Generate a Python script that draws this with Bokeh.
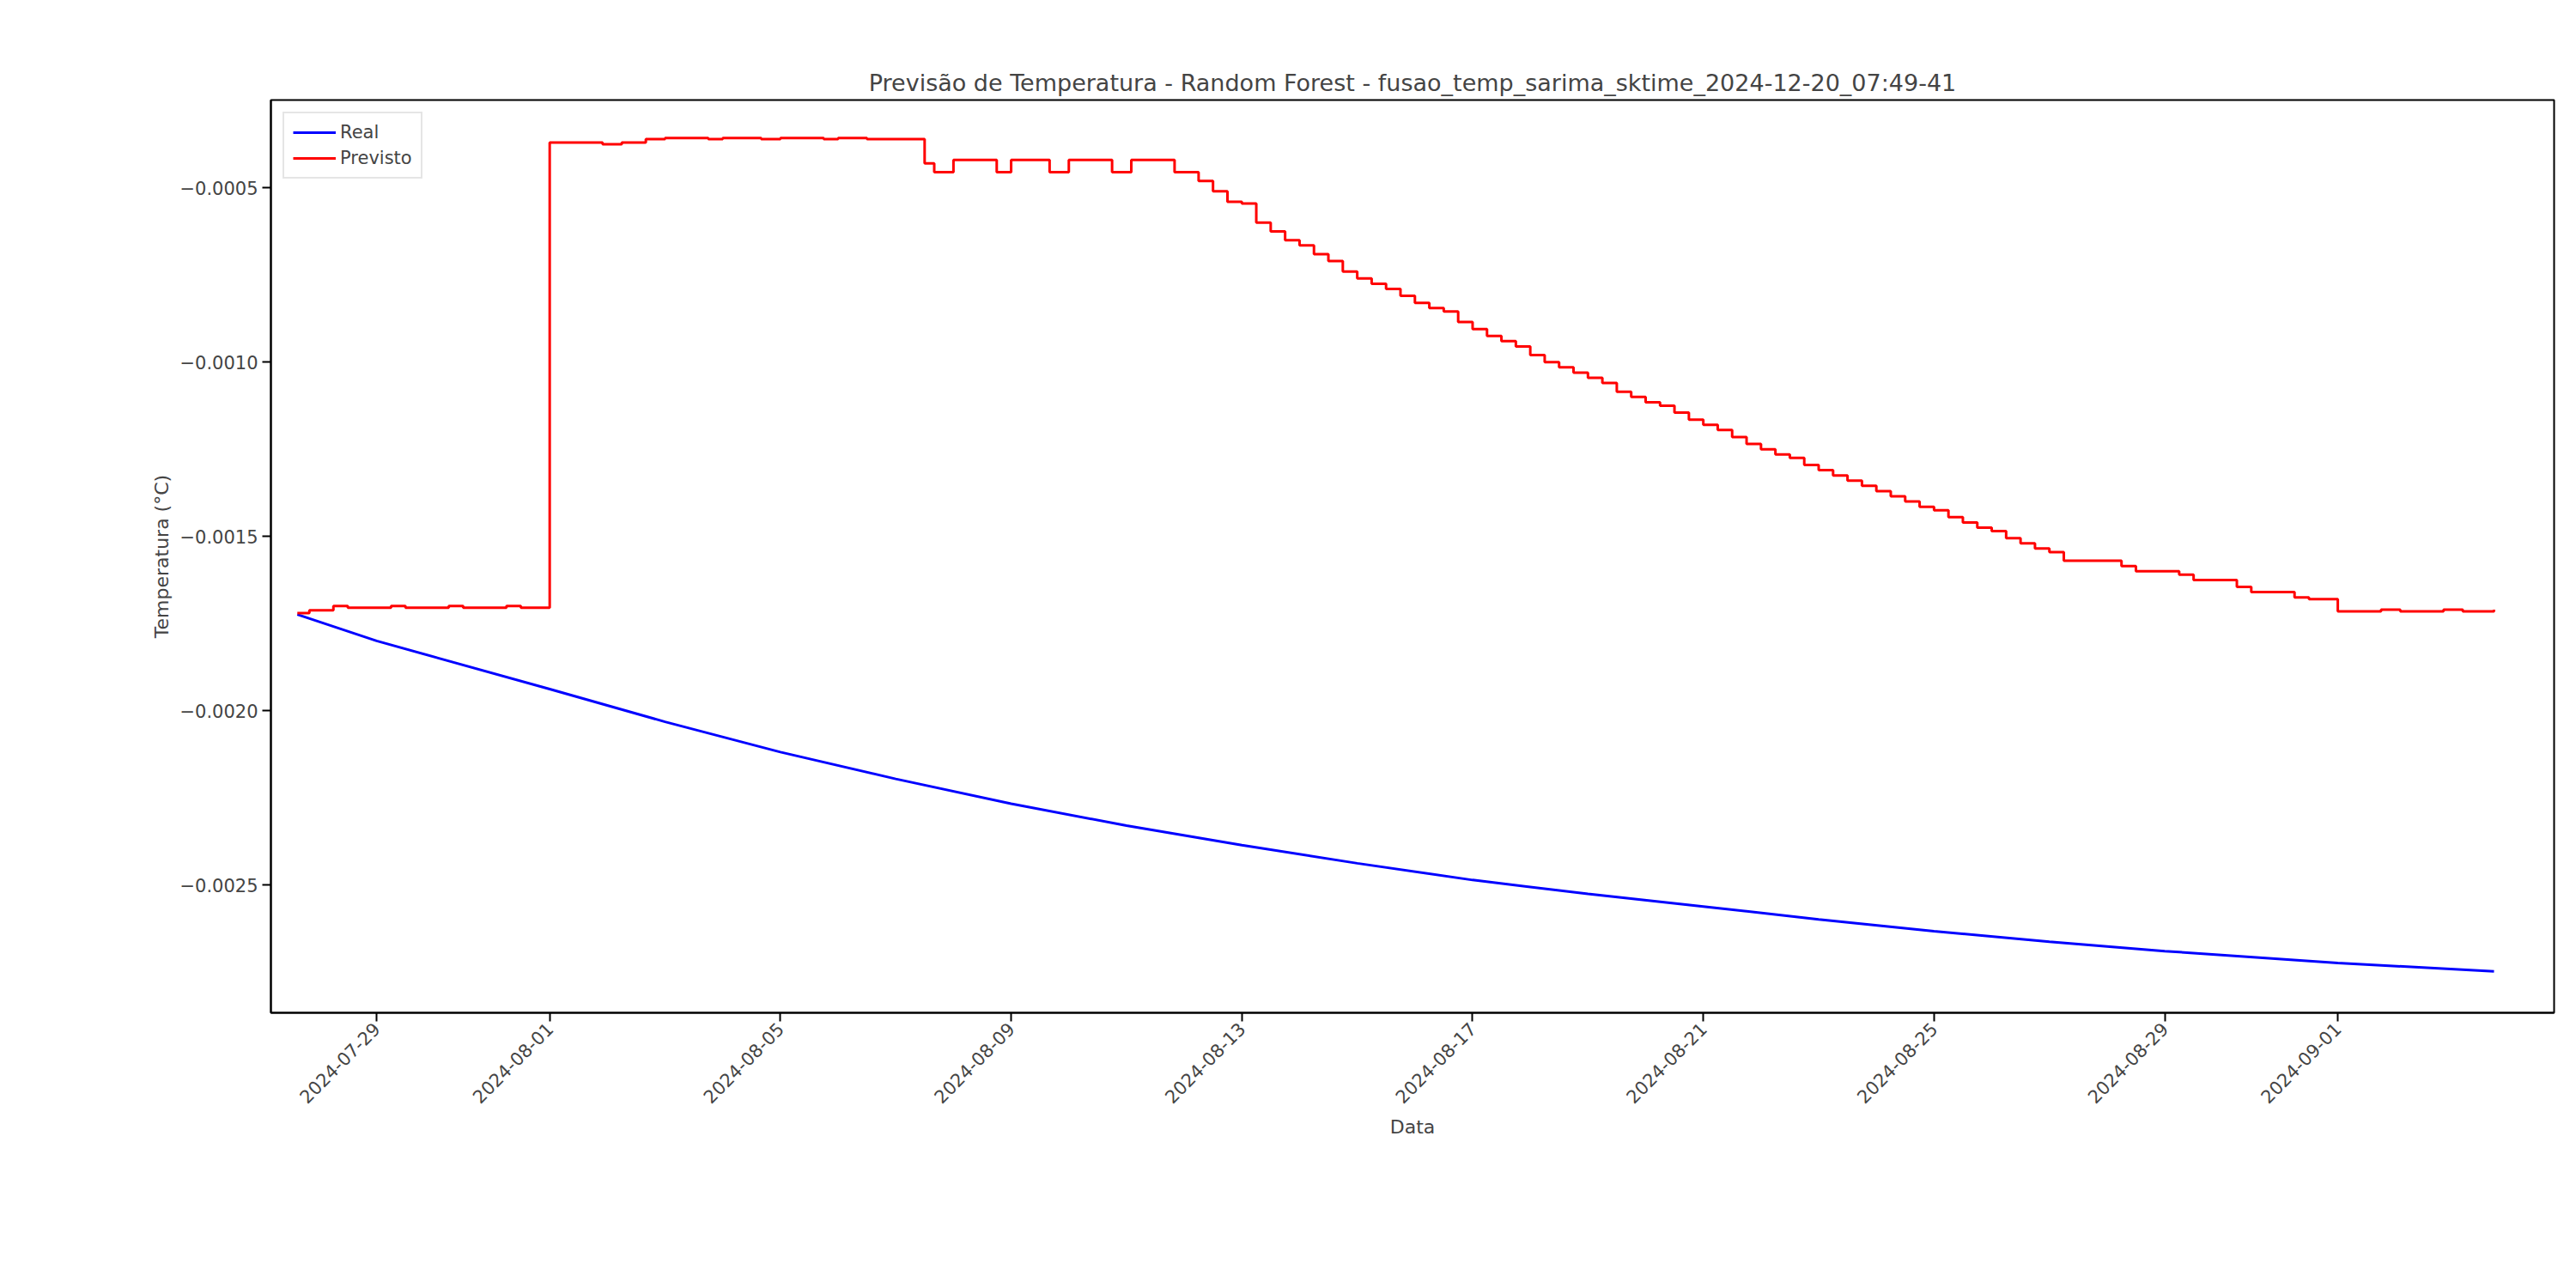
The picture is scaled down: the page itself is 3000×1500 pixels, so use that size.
import numpy as np, pandas as pd
from bokeh.plotting import figure
from bokeh.models import Range1d, FixedTicker, CustomJSTickFormatter, Legend, LegendItem, DatetimeTickFormatter
from bokeh.embed import file_html
from bokeh.resources import INLINE

real_t = ["2024-07-27 15:00","2024-07-29","2024-08-01","2024-08-03","2024-08-05","2024-08-07","2024-08-09","2024-08-11","2024-08-13","2024-08-15","2024-08-17","2024-08-19","2024-08-21","2024-08-23","2024-08-25","2024-08-27","2024-08-29","2024-09-01","2024-09-03 17:00"]
real_v = [-0.001724,-0.001800,-0.001938,-0.002032,-0.002119,-0.002196,-0.002267,-0.002330,-0.002386,-0.002438,-0.002486,-0.002526,-0.002562,-0.002599,-0.002633,-0.002663,-0.002690,-0.002724,-0.002748]

prev_t = ["2024-07-27 15:00","2024-07-27 20:00","2024-07-28 06:00","2024-07-28 12:00","2024-07-29 06:00","2024-07-29 12:00","2024-07-30 06:00","2024-07-30 12:00","2024-07-31 06:00","2024-07-31 12:00",
          "2024-08-01","2024-08-01 22:00","2024-08-02 06:00","2024-08-02 16:00","2024-08-03 00:00","2024-08-03 18:00","2024-08-04","2024-08-04 16:00","2024-08-05 00:00","2024-08-05 18:00","2024-08-06","2024-08-06 12:00",
          "2024-08-07 12:00","2024-08-07 16:00","2024-08-08 00:00","2024-08-08 18:00","2024-08-09","2024-08-09 16:00","2024-08-10","2024-08-10 18:00","2024-08-11 02:00","2024-08-11 20:00"]
prev_v = [-0.001720,-0.001712,-0.001700,-0.001705,-0.001700,-0.001705,-0.001700,-0.001705,-0.001700,-0.001705,
          -0.000370,-0.000375,-0.000370,-0.000360,-0.000357,-0.000360,-0.000357,-0.000360,-0.000357,-0.000360,-0.000357,-0.000360,
          -0.000430,-0.000455,-0.000420,-0.000455,-0.000420,-0.000455,-0.000420,-0.000455,-0.000420,-0.000455]
decl_t = pd.date_range("2024-08-12 06:00", "2024-08-27 00:00", freq="6h")
decl_v = [-0.000480,-0.000510,-0.000540,-0.000545,-0.000600,-0.000625,-0.000650,-0.000665,-0.000690,-0.000710,-0.000740,-0.000760,
          -0.000775,-0.000790,-0.000810,-0.000830,-0.000845,-0.000855,-0.000885,-0.000905,-0.000925,-0.000940,-0.000955,-0.000980,
          -0.001000,-0.001015,-0.001030,-0.001045,-0.001060,-0.001085,-0.001100,-0.001115,-0.001125,-0.001145,-0.001165,-0.001180,
          -0.001195,-0.001215,-0.001235,-0.001250,-0.001265,-0.001275,-0.001295,-0.001310,-0.001325,-0.001340,-0.001355,-0.001370,
          -0.001385,-0.001400,-0.001415,-0.001425,-0.001445,-0.001460,-0.001475,-0.001485,-0.001505,-0.001520,-0.001535,-0.001545,
          -0.001570,-0.001585,-0.001600,-0.001610,-0.001625,-0.001645,-0.001660,-0.001675,-0.001680]
tail_t = ["2024-08-27 06:00","2024-08-28 06:00","2024-08-28 12:00","2024-08-29 06:00","2024-08-29 12:00","2024-08-30 06:00","2024-08-30 12:00","2024-08-31 06:00","2024-08-31 12:00",
          "2024-09-01","2024-09-01 18:00","2024-09-02 02:00","2024-09-02 20:00","2024-09-03 04:00","2024-09-03 17:00"]
tail_v = [-0.001715,-0.001710,-0.001715,-0.001710,-0.001715,-0.001710,-0.001715,-0.001710,-0.001715,
          -0.000420,-0.000455,-0.000420,-0.000455,-0.000455,-0.000455]

pt = list(pd.to_datetime(prev_t, format="mixed")) + list(decl_t) + list(pd.to_datetime(tail_t, format="mixed"))
pv = prev_v + decl_v + tail_v
rt = pd.to_datetime(real_t, format="mixed")

ticks = ["2024-07-29","2024-08-01","2024-08-05","2024-08-09","2024-08-13","2024-08-17","2024-08-21","2024-08-25","2024-08-29","2024-09-01"]
ms = lambda s: pd.Timestamp(s).value / 1e6

p = figure(width=2984, height=1484, output_backend="svg", toolbar_location=None, x_axis_type="datetime",
           x_range=Range1d(ms("2024-07-27 04:00"), ms("2024-09-04 18:00")), y_range=Range1d(-0.002867, -0.000248),
           title="Previsão de Temperatura - Random Forest - fusao_temp_sarima_sktime_2024-12-20_07:49-41",
           min_border_left=315, min_border_right=10, min_border_top=116, min_border_bottom=305)
p.title.align = "center"; p.title.text_font_size = "27px"; p.title.text_font_style = "normal"; p.title.text_font = "DejaVu Sans"
p.grid.visible = False
p.outline_line_color = "black"; p.outline_line_width = 2
r1 = p.line(rt, real_v, color="blue", line_width=3)
r2 = p.step(pt, pv, mode="after", color="red", line_width=3)
p.xaxis.ticker = FixedTicker(ticks=[ms(t) for t in ticks])
p.xaxis.formatter = DatetimeTickFormatter(days="%Y-%m-%d", months="%Y-%m-%d")
p.xaxis.major_label_orientation = np.pi/4
p.yaxis.ticker = FixedTicker(ticks=[-0.0025,-0.002,-0.0015,-0.001,-0.0005])
p.yaxis.formatter = CustomJSTickFormatter(code="return (tick<0?'\u2212':'')+Math.abs(tick).toFixed(4);")
for ax in (p.xaxis, p.yaxis):
    ax.major_label_text_font_size = "21px"; ax.axis_label_text_font_size = "22px"
    ax.major_label_text_font = "DejaVu Sans"; ax.axis_label_text_font = "DejaVu Sans"
    ax.axis_label_text_font_style = "normal"; ax.minor_tick_line_color = None
    ax.major_tick_out = 10; ax.major_tick_in = 0; ax.axis_line_width = 2; ax.major_tick_line_width = 2
p.xaxis.axis_label = "Data"; p.yaxis.axis_label = "Temperatura (°C)"
leg = Legend(items=[LegendItem(label="Real", renderers=[r1]), LegendItem(label="Previsto", renderers=[r2])],
             location="top_left", label_text_font_size="21px", label_text_font="DejaVu Sans",
             border_line_color="#cccccc", border_line_width=2, glyph_width=50, spacing=6, margin=14)
p.add_layout(leg)
open("out.html", "w").write(file_html(p, INLINE))
